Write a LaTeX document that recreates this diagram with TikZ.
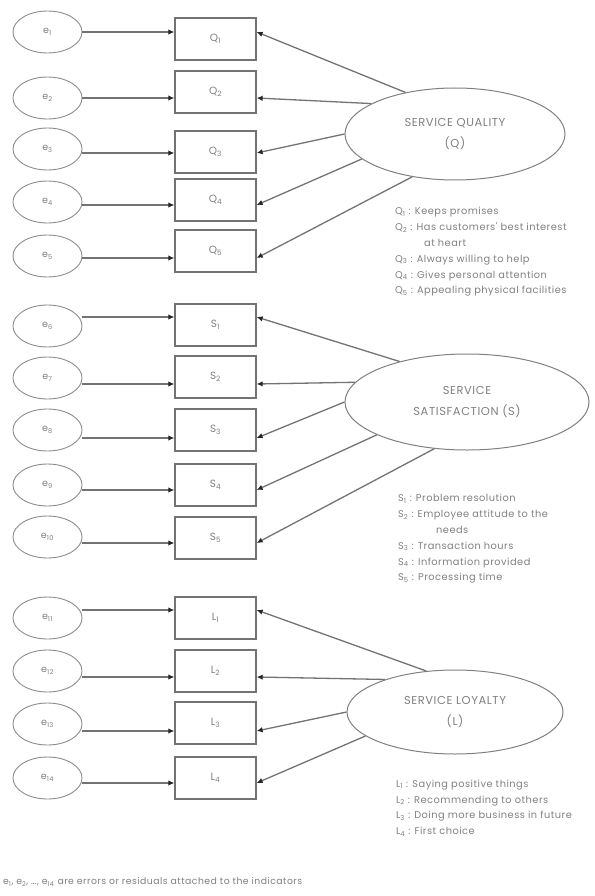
\documentclass[tikz,border=0pt]{standalone}
\usepackage{fontspec}
\setmainfont{Poppins}
\newfontfamily\widefont[LetterSpace=5]{Poppins}
\usetikzlibrary{shapes.geometric,arrows.meta}

\begin{document}
\begin{tikzpicture}[x=1pt,y=-1pt,
  err/.style={ellipse,draw=black!45,line width=0.9pt,minimum width=69pt,
    minimum height=42pt,inner sep=0pt,text=black!50,
    font=\widefont\fontsize{9.5}{11}\selectfont},
  ind/.style={rectangle,draw=black!55,line width=1.3pt,minimum width=81pt,
    minimum height=42pt,inner sep=0pt,text=black!50,
    font=\widefont\fontsize{10.5}{12}\selectfont},
  lat/.style={ellipse,draw=black!50,line width=1pt,inner sep=0pt,
    align=center,text=black!50,font=\widefont\fontsize{11.5}{21}\selectfont},
  link/.style={draw=black!55,line width=1.3pt,
    -{Latex[length=6pt,width=5.5pt,color=black!85]}},
  legend/.style={anchor=west,align=left,inner sep=0pt,text=black!50,
    font=\widefont\fontsize{9.8}{15.8}\selectfont},
  note/.style={anchor=west,inner sep=0pt,text=black!50,
    font=\widefont\fontsize{9.3}{10}\selectfont}
]
\useasboundingbox (0,0) rectangle (594,896);

% latent constructs
\node[lat,minimum width=220pt,minimum height=92pt] (QL) at (455,134)
  {SERVICE QUALITY\\(Q)};
\node[lat,minimum width=244pt,minimum height=96pt] (SL) at (467,402)
  {SERVICE\\SATISFACTION (S)};
\node[lat,minimum width=216pt,minimum height=84pt] (LL) at (455,712)
  {SERVICE LOYALTY\\(L)};

% indicators with their error terms:
% name / label / error label / error y / box y / line offset at error / line offset at box
\foreach \n/\lab/\elab/\ey/\by/\de/\db in {
  q1/Q\textsubscript{1}/e\textsubscript{1}/32/39/0/7,
  q2/Q\textsubscript{2}/e\textsubscript{2}/98/92/0/-6,
  q3/Q\textsubscript{3}/e\textsubscript{3}/149/152/-4/-1,
  q4/Q\textsubscript{4}/e\textsubscript{4}/202/200/-3/-5,
  q5/Q\textsubscript{5}/e\textsubscript{5}/256/251/-2/-7,
  s1/S\textsubscript{1}/e\textsubscript{6}/326/325/9/8,
  s2/S\textsubscript{2}/e\textsubscript{7}/378/377/-6/-7,
  s3/S\textsubscript{3}/e\textsubscript{8}/430/430/-8/-8,
  s4/S\textsubscript{4}/e\textsubscript{9}/485/485/-5/-5,
  s5/S\textsubscript{5}/e\textsubscript{10}/537/538/-6/-5,
  l1/L\textsubscript{1}/e\textsubscript{11}/618/618/8/8,
  l2/L\textsubscript{2}/e\textsubscript{12}/671/671/-6/-6,
  l3/L\textsubscript{3}/e\textsubscript{13}/724/723/-7/-8,
  l4/L\textsubscript{4}/e\textsubscript{14}/778/778/-5/-5}
{
  \node[err] (e\n) at (47.5,\ey) {\elab};
  \node[ind] (\n) at (215.5,\by) {\lab};
  \draw[link] ([yshift=\de pt]e\n.east) -- ([yshift=\db pt]\n.west);
}

% loadings of the constructs on their indicators
\draw[link] (QL.140) -- ([yshift=7pt]q1.east);
\draw[link] (QL.160) -- ([yshift=-6pt]q2.east);
\draw[link] (QL.180) -- ([yshift=-1pt]q3.east);
\draw[link] (QL.195) -- ([yshift=-5pt]q4.east);
\draw[link] (QL.225) -- ([yshift=-7pt]q5.east);

\draw[link] (SL.149) -- ([yshift=8pt]s1.east);
\draw[link] (SL.170) -- ([yshift=-7pt]s2.east);
\draw[link] (SL.180) -- ([yshift=-8pt]s3.east);
\draw[link] (SL.200) -- ([yshift=-5pt]s4.east);
\draw[link] (SL.235) -- ([yshift=-5pt]s5.east);

\draw[link] (LL.125) -- ([yshift=8pt]l1.east);
\draw[link] (LL.155) -- ([yshift=-6pt]l2.east);
\draw[link] (LL.180) -- ([yshift=-8pt]l3.east);
\draw[link] (LL.195) -- ([yshift=-5pt]l4.east);

% indicator keys
\node[legend] (qkey) at (395,252) {%
  Q\textsubscript{1} : Keeps promises\\
  Q\textsubscript{2} : Has customers' best interest\\
  \hspace*{29pt}at heart\\
  Q\textsubscript{3} : Always willing to help\\
  Q\textsubscript{4} : Gives personal attention\\
  Q\textsubscript{5} : Appealing physical facilities};

\node[legend] (skey) at (398,539) {%
  S\textsubscript{1} : Problem resolution\\
  S\textsubscript{2} : Employee attitude to the\\
  \hspace*{38pt}needs\\
  S\textsubscript{3} : Transaction hours\\
  S\textsubscript{4} : Information provided\\
  S\textsubscript{5} : Processing time};

\node[legend] (lkey) at (396,808) {%
  L\textsubscript{1} : Saying positive things\\
  L\textsubscript{2} : Recommending to others\\
  L\textsubscript{3} : Doing more business in future\\
  L\textsubscript{4} : First choice};

\node[note] (errnote) at (3,882) {e\textsubscript{1}, e\textsubscript{2}, \ldots, e\textsubscript{14} are errors or residuals attached to the indicators};
\end{tikzpicture}
\end{document}
